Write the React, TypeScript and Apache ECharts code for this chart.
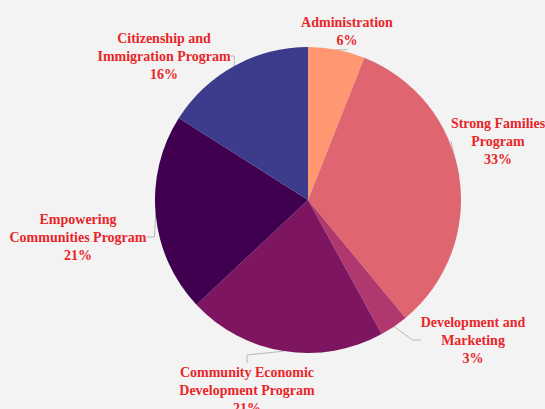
import React, { useEffect, useRef } from "react";
import * as echarts from "echarts";

const categories = [
  "Administration",
  "Strong Families Program",
  "Development and Marketing",
  "Community Economic Development Program",
  "Empowering Communities Program",
  "Citizenship and Immigration Program",
];
const displayNames = [
  "Administration",
  "Strong Families\nProgram",
  "Development and\nMarketing",
  "Community Economic\nDevelopment Program",
  "Empowering\nCommunities Program",
  "Citizenship and\nImmigration Program",
];
const shares = [6, 33, 3, 21, 21, 16];
const colors = ["#FF9770", "#DF6670", "#B0386E", "#7D1560", "#3F0050", "#3C3B8C"];
// label centers (px)
const labelPos: [number, number][] = [
  [347, 31],
  [498, 141],
  [473, 340],
  [247, 390],
  [78, 237],
  [164, 56],
];

export default function App() {
  const ref = useRef<HTMLDivElement>(null);
  useEffect(() => {
    if (!ref.current) return;
    const chart = echarts.init(ref.current, undefined, { renderer: "svg" });
    chart.setOption({
      animation: false,
      backgroundColor: "#F3F3F3",
      series: [
        {
          type: "pie",
          center: [308, 200],
          radius: [0, 153],
          startAngle: 90,
          clockwise: true,
          avoidLabelOverlap: false,
          itemStyle: { borderWidth: 0 },
          emphasis: { disabled: true },
          data: categories.map((c, i) => ({
            name: c,
            value: shares[i],
            itemStyle: { color: colors[i] },
          })),
          label: {
            show: true,
            formatter: (p: any) => displayNames[p.dataIndex] + "\n" + shares[p.dataIndex] + "%",
            color: "#E8262A",
            fontFamily: "Liberation Serif",
            fontWeight: "bold",
            fontSize: 14,
            lineHeight: 18,
            align: "center",
          },
          labelLine: {
            show: true,
            length: 12,
            length2: 8,
            lineStyle: { color: "#A8A8A8", width: 0.8 },
          },
          labelLayout: (params: any) => {
            const p = labelPos[params.dataIndex];
            return { x: p[0], y: p[1], align: "center", verticalAlign: "middle" };
          },
        },
      ],
    });
    return () => chart.dispose();
  }, []);
  return (
    <div
      ref={ref}
      style={{ position: "absolute", left: 0, top: 0, width: 545, height: 409 }}
    />
  );
}
